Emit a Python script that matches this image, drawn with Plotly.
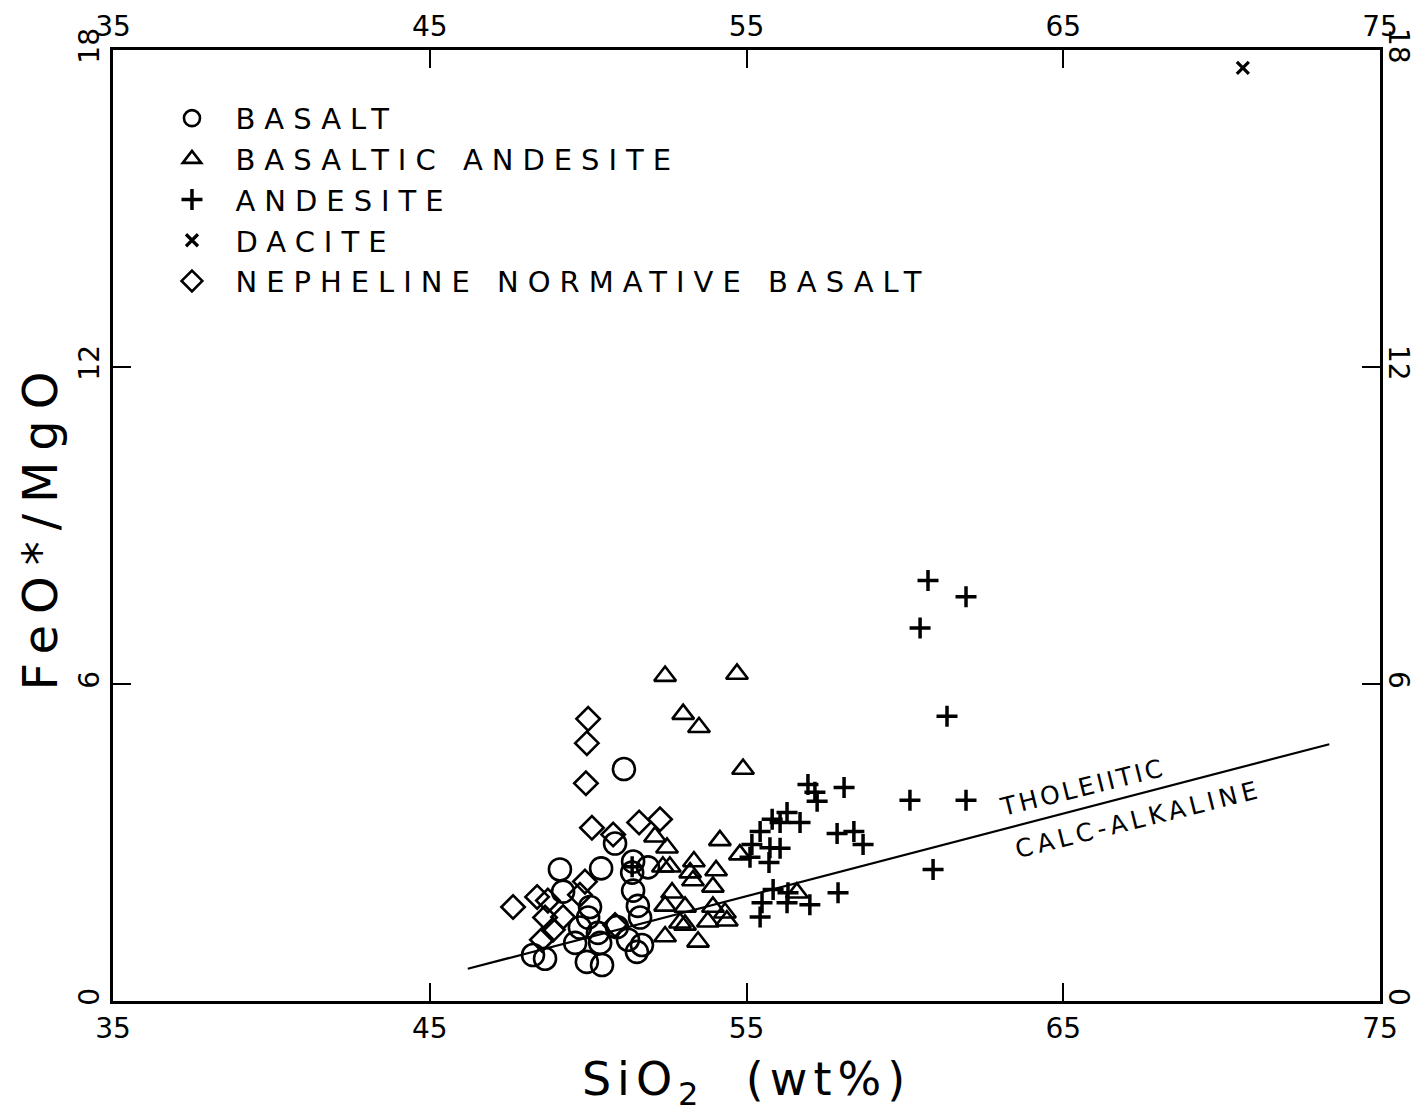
import plotly.graph_objects as go

# ---- data ----
basalt_x = [51.13, 50.85, 49.11, 50.41, 51.42, 51.89, 49.21, 51.42, 50.06, 51.57, 50.00, 51.64,
            49.74, 50.31, 49.59, 50.38, 50.91, 51.26, 51.70, 48.26, 48.64, 49.96, 50.44, 51.39, 51.54]
basalt_y = [4.39, 2.98, 2.49, 2.51, 2.64, 2.53, 2.07, 2.09, 1.78, 1.80, 1.58, 1.58,
            1.39, 1.29, 1.10, 1.10, 1.40, 1.16, 1.06, 0.87, 0.80, 0.74, 0.68, 2.43, 0.93]

bas_andesite_x = [52.43, 54.70, 53.00, 53.50, 54.89, 52.11, 52.49, 54.16, 54.79, 52.36, 52.58, 53.34,
                  53.22, 54.04, 53.31, 53.94, 52.65, 52.43, 53.06, 53.94, 54.32, 53.78, 54.38, 52.43,
                  53.06, 53.47, 56.59, 52.90]
bas_andesite_y = [6.15, 6.19, 5.43, 5.18, 4.39, 3.11, 2.90, 3.04, 2.77, 2.54, 2.54, 2.64,
                  2.43, 2.47, 2.28, 2.16, 2.05, 1.80, 1.78, 1.78, 1.67, 1.50, 1.52, 1.22,
                  1.44, 1.12, 2.05, 1.48]

andesite_x = [60.73, 61.93, 60.48, 61.33, 60.16, 61.93, 58.08, 60.89, 57.89, 56.94, 57.16, 57.23,
              55.81, 56.28, 56.06, 56.69, 55.43, 57.86, 58.39, 58.68, 55.17, 55.74, 56.06, 55.71,
              55.11, 55.84, 56.31, 56.28, 57.00, 55.49, 55.43, 51.39]
andesite_y = [7.96, 7.65, 7.06, 5.39, 3.80, 3.80, 4.04, 2.49, 2.05, 4.10, 3.95, 3.78,
              3.44, 3.57, 3.38, 3.38, 3.21, 3.17, 3.21, 2.96, 2.96, 2.90, 2.89, 2.62,
              2.72, 2.11, 2.05, 1.86, 1.82, 1.86, 1.59, 2.54]

dacite_x = [70.67]
dacite_y = [17.66]

neph_x = [50.00, 49.96, 49.93, 50.12, 50.79, 51.61, 52.27, 47.63, 48.39, 48.73, 49.90, 49.74,
          48.64, 49.21, 48.89, 48.54, 50.85]
neph_y = [5.34, 4.88, 4.12, 3.28, 3.15, 3.38, 3.44, 1.78, 1.97, 1.90, 2.26, 2.01,
          1.58, 1.59, 1.35, 1.16, 1.44]

divider_x = [46.2, 73.4]
divider_y = [0.61, 4.86]

x_ticks = [35, 45, 55, 65, 75]
y_ticks = [0, 6, 12, 18]

FONT = "DejaVu Sans"
BLACK = "black"

def spaced(t, px):
    return f'<span style="letter-spacing:{px}px">{t}</span>'

fig = go.Figure()

fig.add_trace(go.Scatter(x=divider_x, y=divider_y, mode="lines",
                         line=dict(color=BLACK, width=2.2), showlegend=False, hoverinfo="skip"))
# invisible copies so the top and right axes are drawn
fig.add_trace(go.Scatter(x=divider_x, y=divider_y, mode="lines", xaxis="x2", yaxis="y",
                         line=dict(color="rgba(0,0,0,0)", width=0), showlegend=False, hoverinfo="skip"))
fig.add_trace(go.Scatter(x=divider_x, y=divider_y, mode="lines", xaxis="x", yaxis="y2",
                         line=dict(color="rgba(0,0,0,0)", width=0), showlegend=False, hoverinfo="skip"))

LS = 9
fig.add_trace(go.Scatter(x=basalt_x, y=basalt_y, mode="markers", name=spaced("BASALT", LS),
                         marker=dict(symbol="circle-open", size=22, color=BLACK,
                                     line=dict(width=2.6, color=BLACK))))
fig.add_trace(go.Scatter(x=bas_andesite_x, y=bas_andesite_y, mode="markers",
                         name=spaced("BASALTIC ANDESITE", LS),
                         marker=dict(symbol="triangle-up-open", size=19, color=BLACK,
                                     line=dict(width=2.6, color=BLACK))))
fig.add_trace(go.Scatter(x=andesite_x, y=andesite_y, mode="markers", name=spaced("ANDESITE", LS),
                         marker=dict(symbol="cross-thin-open", size=15, color=BLACK,
                                     line=dict(width=3.5, color=BLACK))))
fig.add_trace(go.Scatter(x=dacite_x, y=dacite_y, mode="markers", name=spaced("DACITE", LS),
                         marker=dict(symbol="x-thin-open", size=12, color=BLACK,
                                     line=dict(width=3.2, color=BLACK))))
fig.add_trace(go.Scatter(x=neph_x, y=neph_y, mode="markers",
                         name=spaced("NEPHELINE NORMATIVE BASALT", LS),
                         marker=dict(symbol="diamond-open", size=18, color=BLACK,
                                     line=dict(width=2.6, color=BLACK))))

axis_common = dict(showgrid=False, zeroline=False, showline=True, linecolor=BLACK, linewidth=3,
                   ticks="inside", ticklen=18, tickwidth=2, tickcolor=BLACK, automargin=False,
                   tickfont=dict(family=FONT, size=28, color=BLACK))

fig.update_layout(
    width=1416, height=1116,
    margin=dict(l=113, r=36, t=50, b=115, autoexpand=False),
    paper_bgcolor="white", plot_bgcolor="white",
    font=dict(family=FONT, color=BLACK),
    xaxis=dict(range=[35, 75], tickvals=x_ticks, ticktext=[str(v) for v in x_ticks],
               title=dict(text=spaced("SiO<sub>2</sub>  (wt%)", 6), font=dict(family=FONT, size=46),
                          standoff=20),
               **axis_common),
    yaxis=dict(range=[0, 18], tickvals=y_ticks, ticktext=[str(v) for v in y_ticks], tickangle=-90,
               title=dict(text=spaced("FeO*/MgO", 11), font=dict(family=FONT, size=48), standoff=0),
               **axis_common),
    xaxis2=dict(range=[35, 75], tickvals=x_ticks, ticktext=[str(v) for v in x_ticks],
                overlaying="x", side="top", anchor="y", **axis_common),
    yaxis2=dict(range=[0, 18], tickvals=y_ticks, ticktext=[str(v) for v in y_ticks], tickangle=90,
                overlaying="y", side="right", anchor="x", ticklabelstandoff=-5, **axis_common),
    legend=dict(x=0.028, y=0.955, xanchor="left", yanchor="top", bgcolor="rgba(0,0,0,0)",
                font=dict(family=FONT, size=29, color=BLACK), itemwidth=77, tracegroupgap=0),
    showlegend=True,
)

fig.add_annotation(x=65.62, y=4.04, xref="x", yref="y", text=spaced("THOLEIITIC", 3),
                   textangle=-14, showarrow=False, font=dict(family=FONT, size=25, color=BLACK))
fig.add_annotation(x=67.36, y=3.44, xref="x", yref="y", text=spaced("CALC-ALKALINE", 4.5),
                   textangle=-14, showarrow=False, font=dict(family=FONT, size=25, color=BLACK))

fig.write_html("out.html")
